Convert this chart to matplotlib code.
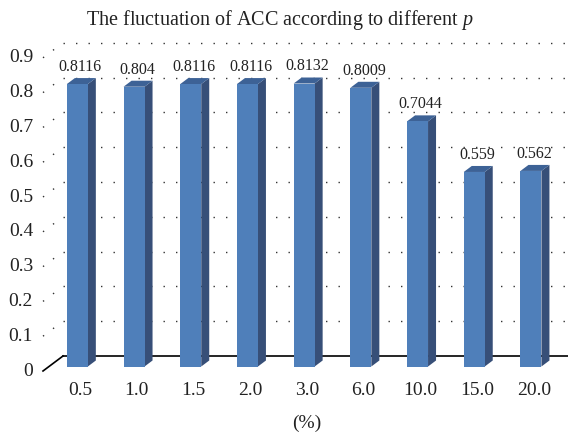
import matplotlib
matplotlib.use("Agg")
import matplotlib.pyplot as plt
from matplotlib.patches import Polygon

categories = ["0.5", "1.0", "1.5", "2.0", "3.0", "6.0", "10.0", "15.0", "20.0"]
values = [0.8116, 0.804, 0.8116, 0.8116, 0.8132, 0.8009, 0.7044, 0.559, 0.562]
value_labels = ["0.8116", "0.804", "0.8116", "0.8116", "0.8132", "0.8009", "0.7044", "0.559", "0.562"]
yticks = [0, 0.1, 0.2, 0.3, 0.4, 0.5, 0.6, 0.7, 0.8, 0.9]
ytick_labels = ["0", "0.1", "0.2", "0.3", "0.4", "0.5", "0.6", "0.7", "0.8", "0.9"]
title = "The fluctuation of ACC according to different $p$"
xlabel = "(%)"

plt.rcParams['font.family'] = ['Liberation Serif', 'DejaVu Serif']
plt.rcParams['mathtext.fontset'] = 'custom'
plt.rcParams['mathtext.it'] = 'Liberation Serif:italic'

fig = plt.figure(figsize=(5.68, 4.36), dpi=100)
ax = fig.add_axes([0, 0, 1, 1])
ax.set_axis_off()

# pixel mapping: x px = 43 + (x+0.5)*56.7 ; y px(from top) = 371 - v*348
PX = 56.7
PY = 348.0
ax.set_xlim(-0.5 - 43 / PX, -0.5 + (568 - 43) / PX)
ax.set_ylim((371 - 436) / PY, 371 / PY)

DX = 20 / PX   # floor depth in x units
DY = 15 / PY   # floor depth in y units
n = len(categories)
x_left = -0.5
x_right = n - 0.5 + 1.0

grid_kw = dict(color="#333333", lw=1.0, linestyle=(0, (1, 8)), zorder=1)
for v in yticks[1:]:
    ax.plot([x_left + DX, x_right], [v + DY, v + DY], **grid_kw)
    ax.plot([x_left, x_left + DX], [v, v + DY], **grid_kw)
# floor lines
ax.plot([x_left + DX, x_right], [DY, DY], color="black", lw=1.2, zorder=1)
ax.plot([x_left, x_left + DX], [0, DY], color="black", lw=1.2, zorder=1)

# bars
front_f, back_f = 0.3, 0.7
fx, fy = front_f * DX, front_f * DY
ddx, ddy = (back_f - front_f) * DX, (back_f - front_f) * DY
hw = 0.185
c_front = "#4F7FBA"
c_side = "#374F78"
c_top = "#3D6296"
for i, v in enumerate(values):
    x0 = i + fx - hw
    x1 = i + fx + hw
    y0 = fy
    y1 = v + fy
    ax.add_patch(Polygon([(x1, y0), (x1, y1), (x1 + ddx, y1 + ddy), (x1 + ddx, y0 + ddy)],
                         closed=True, facecolor=c_side, edgecolor="none", zorder=3))
    ax.add_patch(Polygon([(x0, y1), (x1, y1), (x1 + ddx, y1 + ddy), (x0 + ddx, y1 + ddy)],
                         closed=True, facecolor=c_top, edgecolor="none", zorder=3))
    ax.add_patch(Polygon([(x0, y0), (x1, y0), (x1, y1), (x0, y1)],
                         closed=True, facecolor=c_front, edgecolor="none", zorder=4))
    ax.text(i + 0.16, v + 0.062, value_labels[i], ha="center", va="center",
            fontsize=11.5, color="#222222", zorder=5)

# y tick labels
for v, lab in zip(yticks, ytick_labels):
    ax.text(x_left - 10 / PX, v, lab, ha="right", va="center", fontsize=14, color="#222222")

# x tick labels
for i, lab in enumerate(categories):
    ax.text(i + 0.155, -19 / PY, lab, ha="center", va="center", fontsize=14, color="#222222")

ax.text((n - 1) / 2 + 0.155, -52 / PY, xlabel, ha="center", va="center",
        fontsize=14, color="#222222")

fig.text(280 / 568, 1 - 20 / 436, title, ha="center", va="center", fontsize=14.5, color="#222222")

fig.savefig("out.png", dpi=100)
